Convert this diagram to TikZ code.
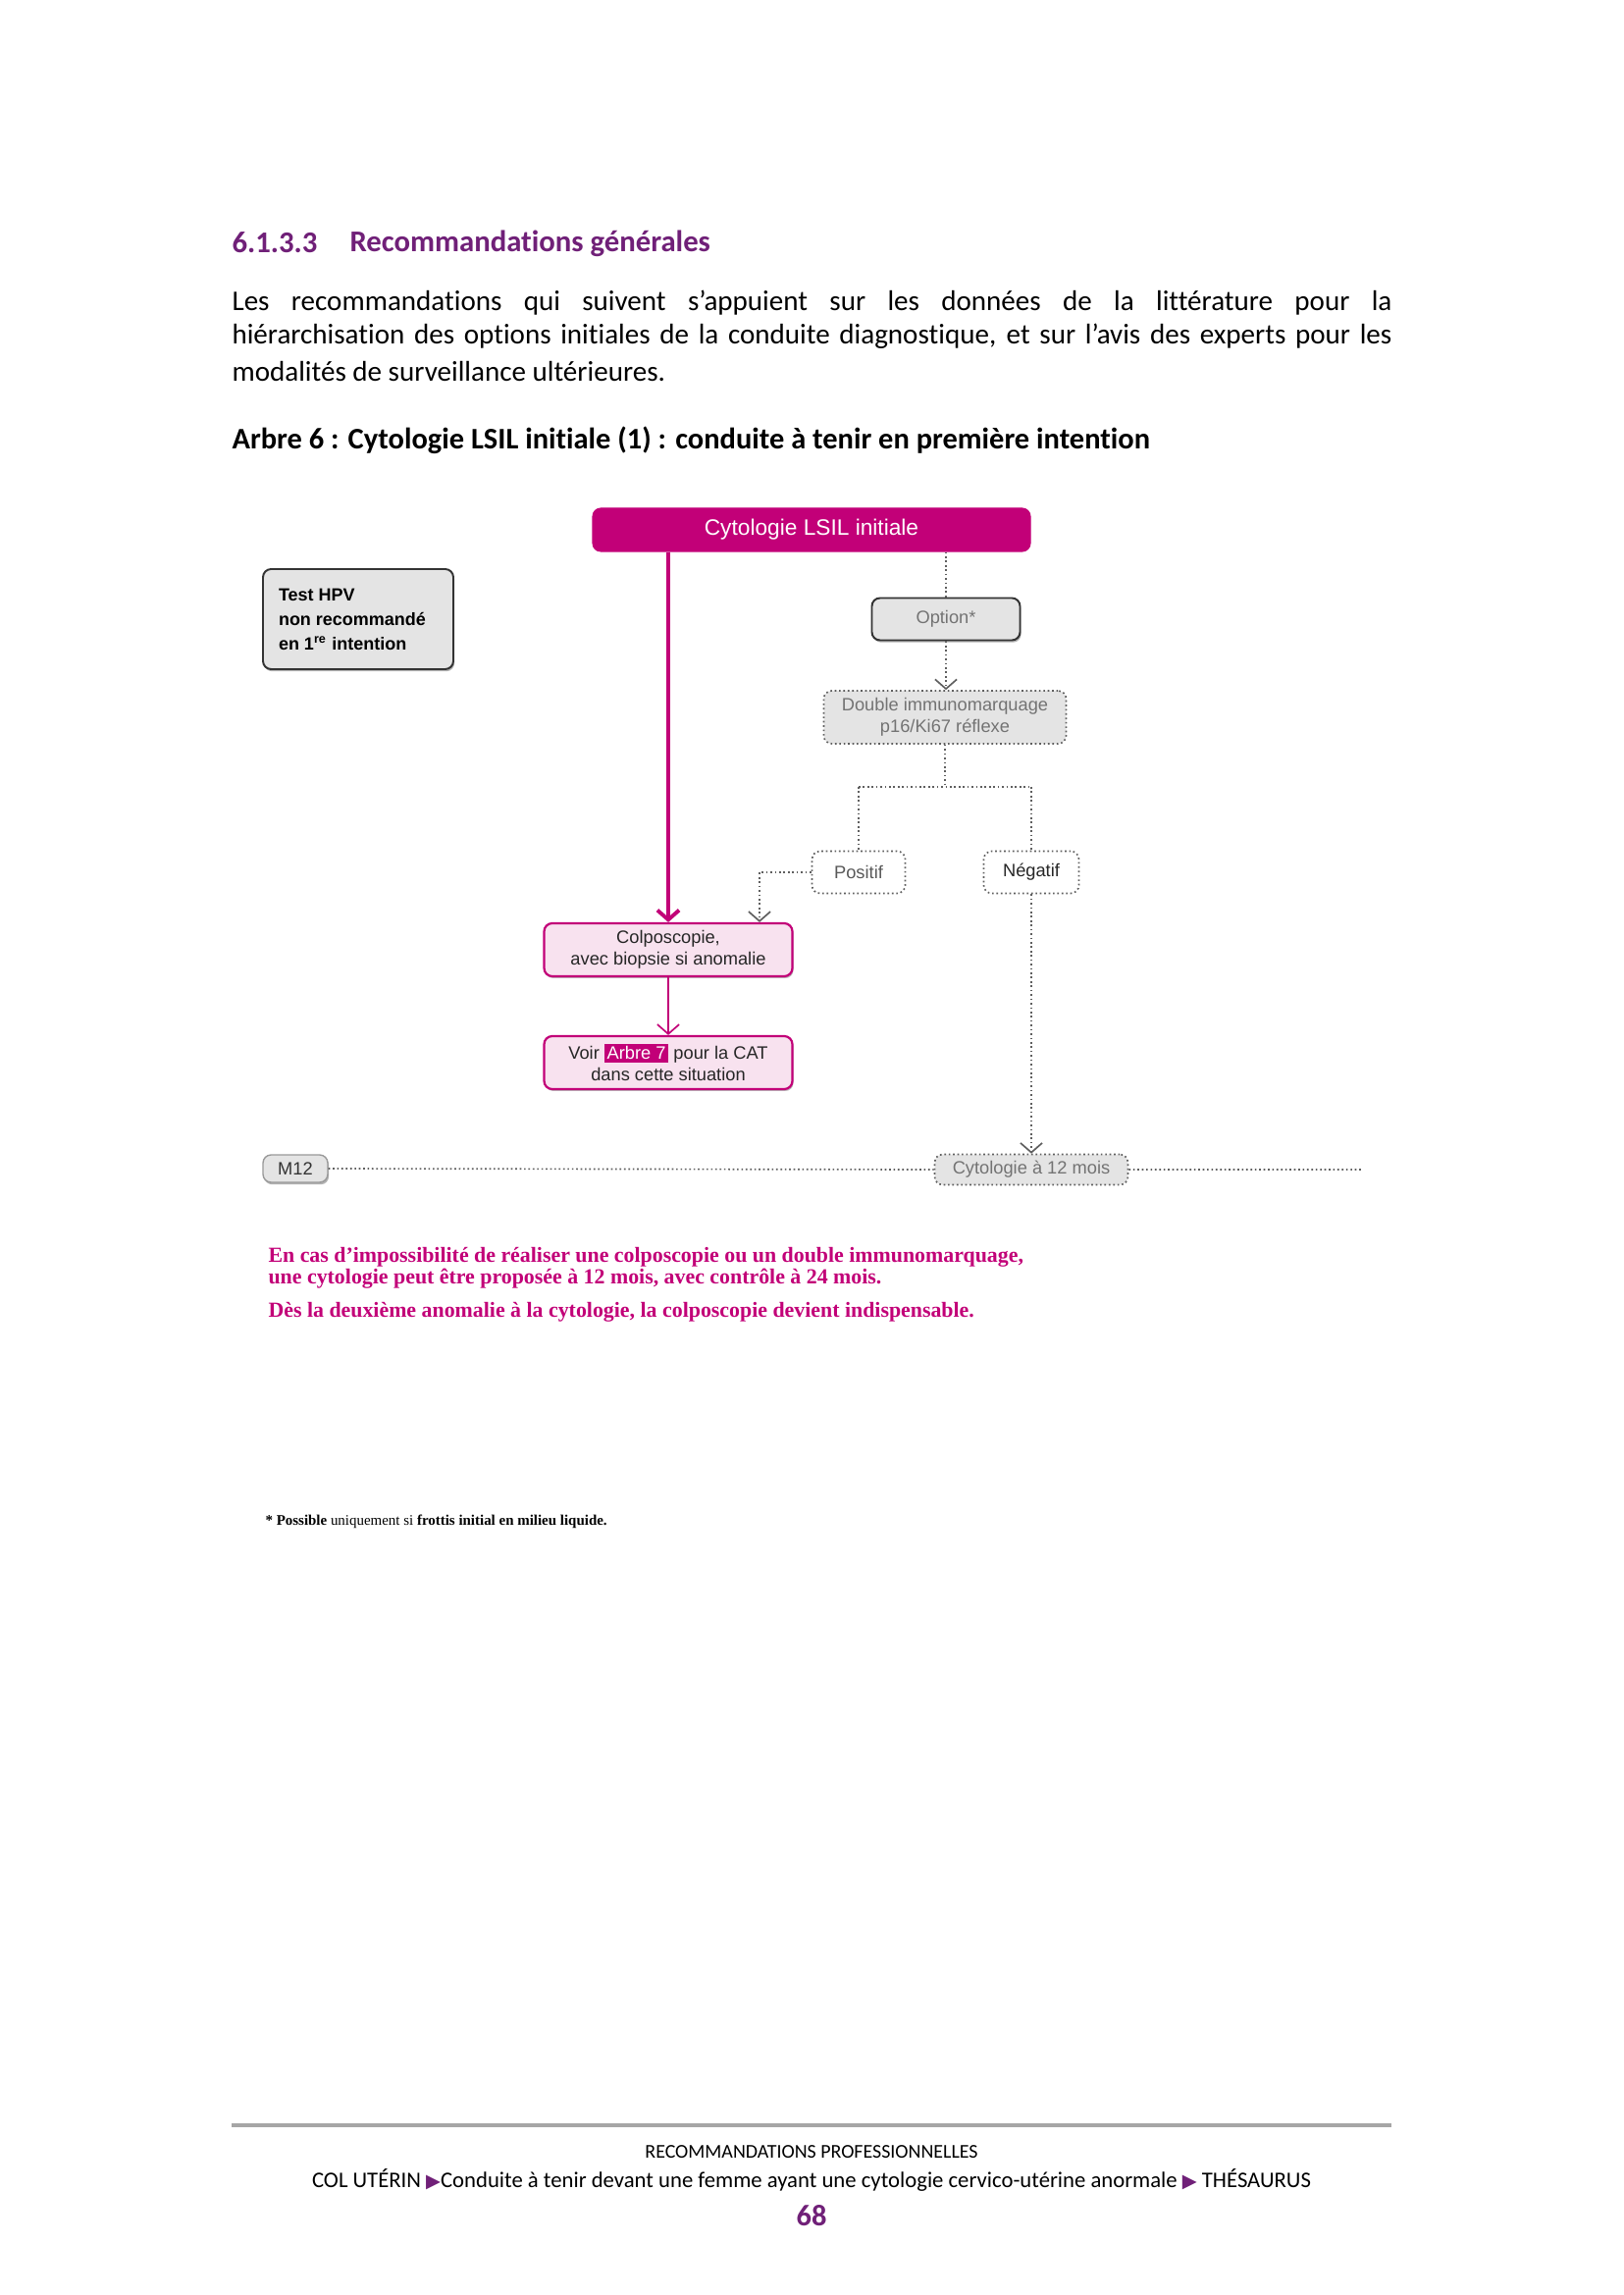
\documentclass[tikz,border=0pt]{standalone}
\usepackage{fontspec}
\usepackage{xcolor}
\usetikzlibrary{arrows.meta,shadows}
\setmainfont{Carlito}[Ligatures=NoCommon]
\newfontfamily\diagfont{Liberation Sans}
\newfontfamily\notefont{Liberation Serif}
\newfontfamily\symfont{DejaVu Sans}
\definecolor{lsilmag}{RGB}{194,0,120}
\definecolor{lsilpink}{RGB}{248,226,239}
\definecolor{lsilgray}{RGB}{228,228,228}
\definecolor{lsilpurple}{RGB}{112,32,120}
\definecolor{lsilline}{RGB}{95,95,95}
\newdimen\pxu \pxu=0.012697cm
\tikzstyle{lsilbox}=[rounded corners=3pt, inner sep=0pt, align=center, font=\diagfont\fontsize{6.6}{7.9}\selectfont]
\tikzstyle{magbox}=[lsilbox, fill=lsilmag, draw=lsilmag, text=white, font=\diagfont\fontsize{8.2}{9.8}\selectfont]
\tikzstyle{pinkbox}=[lsilbox, fill=lsilpink, draw=lsilmag, line width=0.8pt, text=black!85, drop shadow={shadow xshift=0.4pt, shadow yshift=-0.7pt, fill=black!45, opacity=0.6}]
\tikzstyle{graybox}=[lsilbox, fill=lsilgray, draw=black!80, line width=0.7pt, drop shadow={shadow xshift=0.4pt, shadow yshift=-0.8pt, fill=black!50, opacity=0.6}]
\tikzstyle{dotbox}=[lsilbox, draw=lsilline, densely dotted, line width=0.6pt]
\tikzstyle{dotline}=[lsilline, densely dotted, line width=0.6pt]
\tikzstyle{barb}=[-{Straight Barb[length=3.5pt,width=8pt]}]
\tikzstyle{bodytext}=[anchor=west, inner sep=0pt, font=\fontsize{10.5}{12.6}\selectfont]
\newcommand{\pinknote}{\node[anchor=west, inner sep=0pt, text=lsilmag, font=\notefont\bfseries\fontsize{7.9}{9.2}\selectfont]}
\newcommand{\arrowtri}{{\symfont\color{lsilpurple}\fontsize{7}{8}\selectfont ▶}}

\begin{document}
\begin{tikzpicture}[x=\pxu, y=-\pxu]
\fill[white] (0,0) rectangle (1654,2339);
\useasboundingbox (0,0) rectangle (1654,2339);

\node[anchor=west, inner sep=0pt, text=lsilpurple, font=\bfseries\fontsize{11.1}{13}\selectfont] (secnum) at (236,247) {6.1.3.3};
\node[anchor=west, inner sep=0pt, text=lsilpurple, font=\bfseries\fontsize{11.1}{13}\selectfont] (sectitle) at (356,248) {Recommandations générales};
\foreach \yy/\txt [count=\i] in {309/{Les recommandations qui suivent s’appuient sur les données de la littérature pour la},
	343/{hiérarchisation des options initiales de la conduite diagnostique, et sur l’avis des experts pour les}}{
	\node[bodytext] (par\i) at (236,\yy) {\makebox[1182\pxu][s]{\txt}};
	}
\node[bodytext] (par3) at (236,379) {modalités de surveillance ultérieures.};
\node[bodytext, font=\bfseries\fontsize{11}{13}\selectfont] (treetitle) at (236,449) {Arbre 6 : Cytologie LSIL initiale (1) : conduite à tenir en première intention};

\node[magbox, minimum width=446*\pxu, minimum height=44*\pxu] (start) at (827,540) {Cytologie LSIL initiale};
\node[graybox, minimum width=194*\pxu, minimum height=102*\pxu, align=left, font=\diagfont\bfseries\fontsize{6.5}{9}\selectfont] (hpv) at (365,631) {\makebox[162\pxu][l]{Test HPV}\\non recommandé\\en 1\textsuperscript{re} intention};
\node[graybox, minimum width=151*\pxu, minimum height=43*\pxu, text=black!55] (option) at (964,631) {Option*};
\node[dotbox, fill=lsilgray, minimum width=247*\pxu, minimum height=54*\pxu, text=black!55] (double) at (963,731) {Double immunomarquage\\p16/Ki67 réflexe};
\node[dotbox, fill=white, minimum width=95*\pxu, minimum height=43*\pxu, text=black!65] (pos) at (875,889) {Positif};
\node[dotbox, fill=white, minimum width=97*\pxu, minimum height=43*\pxu, text=black!85] (neg) at (1051,889) {Négatif};
\node[pinkbox, minimum width=253*\pxu, minimum height=54*\pxu] (colpo) at (681,968) {Colposcopie,\\avec biopsie si anomalie};
\node[pinkbox, minimum width=253*\pxu, minimum height=54*\pxu] (voir) at (681,1083) {Voir {\fboxsep=1pt\colorbox{lsilmag}{\color{white}Arbre 7}} pour la CAT\\dans cette situation};
\node[graybox, draw=black!40, line width=0.5pt, minimum width=66*\pxu, minimum height=28*\pxu, text=black!80] (m12) at (301,1191) {M12};
\node[dotbox, fill=lsilgray, minimum width=197*\pxu, minimum height=31*\pxu, text=black!55] (cyto12) at (1051,1192) {Cytologie à 12 mois};
\coordinate (m12end) at (1387,1192);
\coordinate (split) at (963,802);
\coordinate (posturn) at (774,889);

\draw[lsilmag, line width=1.4pt, barb] (start.south -| colpo.north) -- (colpo.north);
\draw[lsilmag, line width=0.6pt, barb] (colpo) -- (voir);
\draw[dotline] (start.south -| option.north) -- (option.north);
\draw[dotline, barb] (option.south) -- (option.south |- double.north);
\draw[dotline] (double.south) -- (split) (pos.north |- split) -- (neg.north |- split) (pos.north |- split) -- (pos.north) (neg.north |- split) -- (neg.north);
\draw[dotline, barb] (pos.west) -- (posturn) -- (posturn |- colpo.north);
\draw[dotline, barb] (neg.south) -- (neg.south |- cyto12.north);
\draw[dotline] (m12.east) -- (cyto12.west) (cyto12.east) -- (m12end);

\pinknote (note1) at (273,1281) {En cas d’impossibilité de réaliser une colposcopie ou un double immunomarquage,};
\pinknote (note2) at (273,1303) {une cytologie peut être proposée à 12 mois, avec contrôle à 24 mois.};
\pinknote (note3) at (273,1337) {Dès la deuxième anomalie à la cytologie, la colposcopie devient indispensable.};
\node[anchor=west, inner sep=0pt, font=\notefont\fontsize{5.4}{6.4}\selectfont] (footnote) at (270,1551) {\textbf{* Possible} uniquement si \textbf{frottis initial en milieu liquide.}};

\draw[black!35, line width=1.2pt] (236,2166) -- (1418,2166);
\node[inner sep=0pt, font=\fontsize{7.2}{9}\selectfont] (footrec) at (827,2193) {RECOMMANDATIONS PROFESSIONNELLES};
\node[inner sep=0pt, font=\fontsize{8.2}{10}\selectfont] (footpath) at (827,2222) {COL UTÉRIN \arrowtri Conduite à tenir devant une femme ayant une cytologie cervico-utérine anormale \arrowtri\ THÉSAURUS};
\node[inner sep=0pt, text=lsilpurple, font=\bfseries\fontsize{11}{13}\selectfont] (pagenum) at (827,2258) {68};
\end{tikzpicture}
\end{document}
